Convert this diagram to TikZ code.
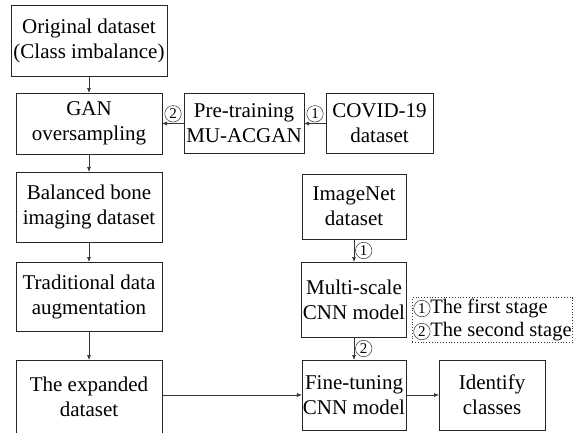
\documentclass[tikz,border=0pt]{standalone}
\usepackage{fontspec}
\setmainfont{Liberation Serif}
\usetikzlibrary{arrows.meta,positioning}
% circled stage numbers
\newcommand{\circnum}[1]{\tikz[baseline=(n.base)]\node[circle, draw=black!80, line width=0.5pt, inner sep=0pt, minimum size=16.5pt, font=\fontsize{15}{15}\selectfont] (n) {#1};}
\tikzset{
  flowbox/.style={
    rectangle, draw=black!85, line width=0.8pt, fill=white,
    align=center, font=\fontsize{21}{25}\selectfont,
    inner sep=1pt, outer sep=0pt
  },
  flowarrow/.style={-{Latex[length=5pt,width=4pt]}, line width=0.7pt, draw=black!80},
  stagelabel/.style={inner sep=1pt},
  legendbox/.style={
    rectangle, draw=black!80, dotted, line width=0.8pt,
    align=left, font=\fontsize{20.5}{23}\selectfont, inner sep=1.2pt
  },
}

\begin{document}
\begin{tikzpicture}[x=1pt, y=1pt]
  \useasboundingbox (0,0) rectangle (580,-432);
  % left column: data preparation
  \node (orig)  [flowbox, minimum width=156pt, minimum height=71pt] at (89,-40.5) {Original dataset\\(Class imbalance)};
  \node (gan)   [flowbox, minimum width=146pt, minimum height=61pt, below=17pt of orig] {GAN\\oversampling};
  \node (bal)   [flowbox, minimum width=146pt, minimum height=70pt, below=18pt of gan] {Balanced bone\\imaging dataset};
  \node (trad)  [flowbox, minimum width=146pt, minimum height=69pt, below=20pt of bal] {Traditional data\\augmentation};
  \node (exp)   [flowbox, minimum width=146pt, minimum height=74pt, below=29pt of trad] {The expanded\\dataset};
  % pre-training of the generator
  \node (pre)   [flowbox, minimum width=120pt, minimum height=60pt, right=22pt of gan] {Pre-training\\MU-ACGAN};
  \node (covid) [flowbox, minimum width=107pt, minimum height=60pt, right=22pt of pre] {COVID-19\\dataset};
  % right column: classifier
  \node (imnet) [flowbox, minimum width=104pt, minimum height=65pt] at (354,-206.5) {ImageNet\\dataset};
  \node (multi) [flowbox, minimum width=105pt, minimum height=75pt, below=23pt of imnet] {Multi-scale\\CNN model};
  \node (fine)  [flowbox, minimum width=102pt, minimum height=70pt, below=23pt of multi] {Fine-tuning\\CNN model};
  \node (ident) [flowbox, minimum width=106pt, minimum height=70pt, right=33pt of fine] {Identify\\classes};
  \node (legend) [legendbox] at (492.5,-320) {\circnum{1}The first stage\\\circnum{2}The second stage};

  \draw[flowarrow] (orig)--(gan); \draw[flowarrow] (gan)--(bal); \draw[flowarrow] (bal)--(trad);
  \draw[flowarrow] (trad)--(exp);
  \draw[flowarrow] (covid)-- node[stagelabel, above] {\circnum{1}} (pre);
  \draw[flowarrow] (pre)-- node[stagelabel, above] {\circnum{2}} (gan);
  \draw[flowarrow] (imnet)-- node[stagelabel, right] {\circnum{1}} (multi);
  \draw[flowarrow] (multi)-- node[stagelabel, right] {\circnum{2}} (fine);
  \draw[flowarrow] (exp.east |- fine.west)--(fine.west);
  \draw[flowarrow] (fine)--(ident);
\end{tikzpicture}
\end{document}
